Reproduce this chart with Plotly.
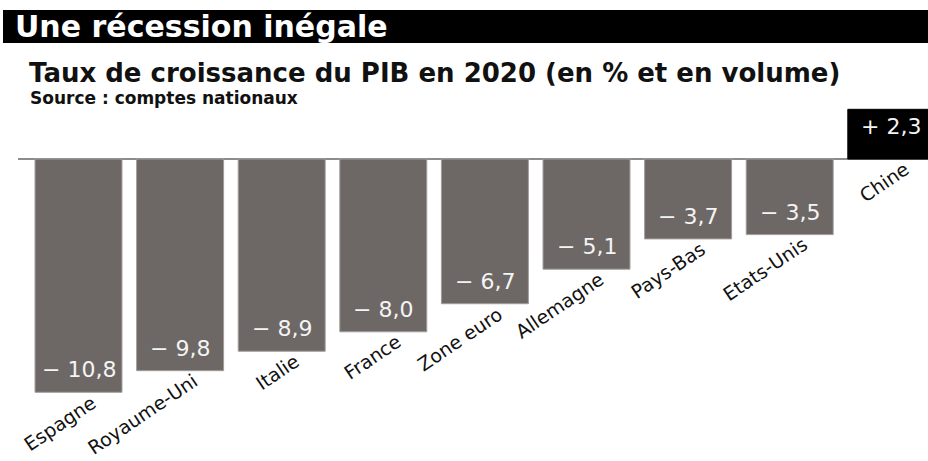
import plotly.graph_objects as go

# ---- data ----
pays = ["Espagne", "Royaume-Uni", "Italie", "France", "Zone euro",
        "Allemagne", "Pays-Bas", "Etats-Unis", "Chine"]
croissance = [-10.8, -9.8, -8.9, -8.0, -6.7, -5.1, -3.7, -3.5, 2.3]

titre = "Une récession inégale"
sous_titre = "Taux de croissance du PIB en 2020 (en % et en volume)"
source = "Source : comptes nationaux"

W, H = 928, 461
ML = 18


def fmt(v):
    s = "+" if v > 0 else "\u2212"
    return f"{s} {abs(v):.1f}".replace(".", ",")


labels = [fmt(v) for v in croissance]
colors = ["#000000" if v > 0 else "#6d6865" for v in croissance]
line_colors = ["#000000" if v > 0 else "#a29d9a" for v in croissance]

fig = go.Figure()
fig.add_trace(go.Bar(
    x=list(range(len(pays))),
    y=croissance,
    marker=dict(color=colors, line=dict(color=line_colors, width=1)),
    hoverinfo="skip",
    width=0.856,
))

annotations = []
# value labels inside bars, near the tip
for i, (lab, v) in enumerate(zip(labels, croissance)):
    annotations.append(dict(
        x=i, y=v, xref="x", yref="y", text=lab, showarrow=False,
        xanchor="center",
        yanchor="bottom" if v < 0 else "top",
        yshift=8 if v < 0 else -3,
        font=dict(family="DejaVu Sans", size=22, color="#f4f4f4"),
    ))

# category labels placed under each bar tip, rotated
for i, (p, v) in enumerate(zip(pays, croissance)):
    annotations.append(dict(
        x=i, y=min(v, 0), xref="x", yref="y",
        text=p, showarrow=False, textangle=-34,
        xanchor="right", yanchor="top",
        xshift=24, yshift=4,
        font=dict(family="DejaVu Sans", size=19, color="#111111"),
    ))


def py(pix):
    return 1 - pix / H


def px(pix):
    return (pix - ML) / (W - ML)


annotations += [
    dict(x=px(13), y=py(26), xref="paper", yref="paper", text=titre,
         showarrow=False, xanchor="left", yanchor="middle",
         font=dict(family="DejaVu Sans", size=30, color="white"),
         ),
    dict(x=px(27), y=py(73), xref="paper", yref="paper", text=sous_titre,
         showarrow=False, xanchor="left", yanchor="middle",
         font=dict(family="DejaVu Sans", size=26, color="#111111")),
    dict(x=px(28), y=py(98), xref="paper", yref="paper", text=source,
         showarrow=False, xanchor="left", yanchor="middle",
         font=dict(family="DejaVu Sans", size=17, color="#111111")),
]

shapes = [dict(type="rect", xref="paper", yref="paper",
               x0=px(3), x1=1.01, y0=py(43), y1=py(10),
               fillcolor="black", line=dict(width=0), layer="below")]

# scale: 0 at y=159 px, 21.6 px per unit; bars spaced 101.6 px
ppu = 21.6
y_top = 159 / ppu
y_bot = -(H - 159) / ppu
step = 101.6
x0 = (ML - 78.5) / step
x1 = (W - 78.5) / step

fig.update_layout(
    width=W, height=H, autosize=False,
    margin=dict(l=ML, r=0, t=0, b=0),
    paper_bgcolor="white", plot_bgcolor="rgba(0,0,0,0)",
    showlegend=False,
    xaxis=dict(range=[x0, x1], visible=False, showgrid=False, zeroline=False),
    yaxis=dict(range=[y_bot, y_top], showgrid=False, showticklabels=False,
               ticks="", showline=False, zeroline=True,
               zerolinecolor="#8c8c8c", zerolinewidth=2),
    annotations=annotations,
    shapes=shapes,
)

# bold text for titles
for a in fig.layout.annotations:
    if a.xref == "paper":
        a.text = f"<b>{a.text}</b>"

fig.write_html("out.html", config={"displayModeBar": False},
               post_script="document.body.style.margin='0';")
